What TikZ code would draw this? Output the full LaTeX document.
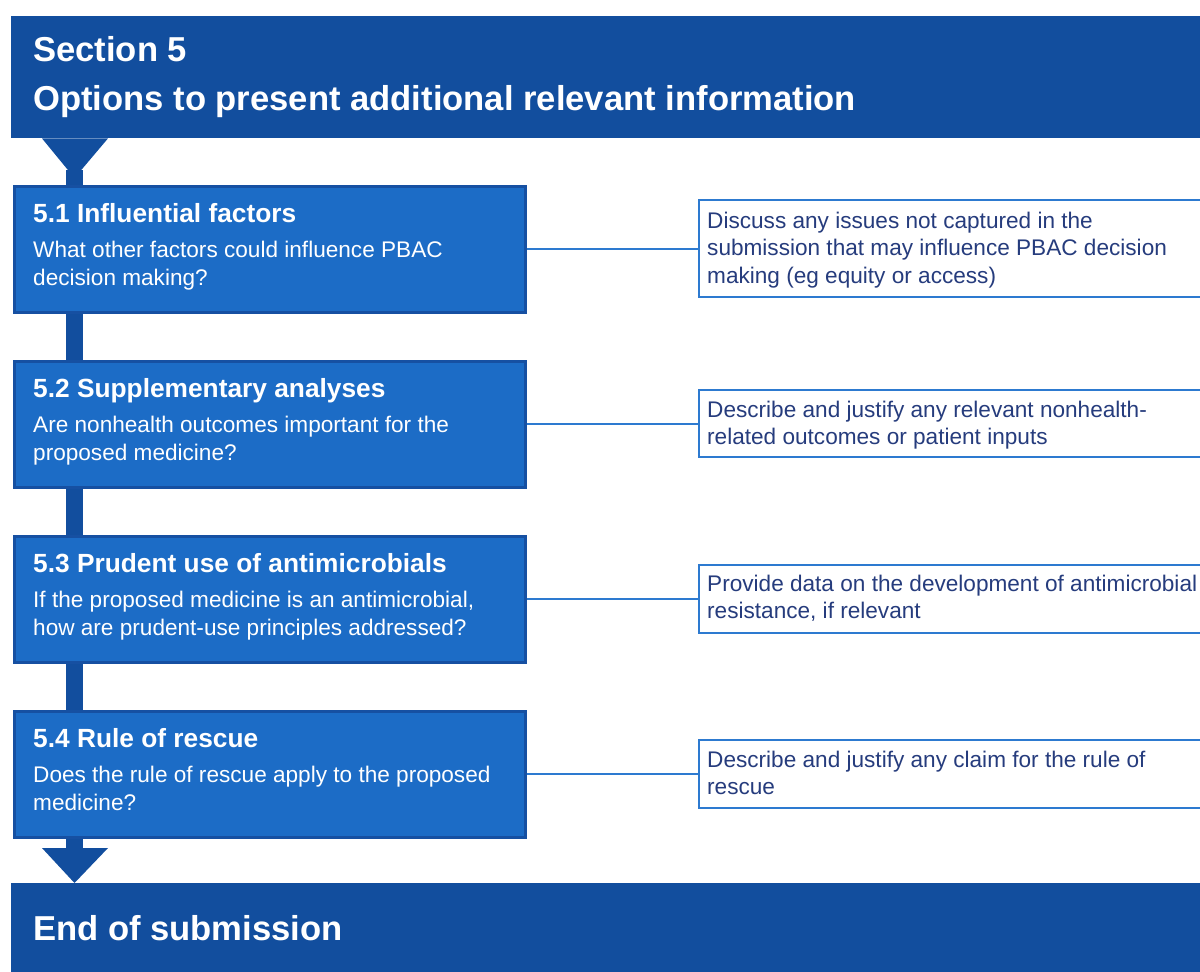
\documentclass[tikz,border=0pt]{standalone}
\usepackage{fontspec}
\setmainfont{Liberation Sans}
\definecolor{hdr}{RGB}{18,78,158}
\definecolor{boxfill}{RGB}{28,108,198}
\definecolor{boxline}{RGB}{22,80,162}
\definecolor{rline}{RGB}{45,122,208}
\definecolor{rtext}{RGB}{38,60,125}
\tikzset{
  banner/.style={fill=hdr, draw=none},
  stepbox/.style={draw=boxline, line width=3pt, fill=boxfill, rectangle, minimum width=511pt, minimum height=126pt, inner sep=0pt, anchor=north west},
  notebox/.style={draw=rline, line width=2pt, fill=white, rectangle, minimum width=520pt, inner sep=0pt, anchor=north west},
  flowbar/.style={draw=hdr, line width=17pt},
  link/.style={draw=rline, line width=2.5pt},
  hdrtext/.style={anchor=base west, inner sep=0pt, text=white, font=\fontsize{34.6}{40}\bfseries\selectfont},
  titletext/.style={anchor=base west, inner sep=0pt, text=white, font=\fontsize{26.3}{30}\bfseries\selectfont},
  bodytext/.style={anchor=base west, inner sep=0pt, text=white, font=\fontsize{22.6}{28}\selectfont},
  notetext/.style={anchor=base west, inner sep=0pt, text=rtext, font=\fontsize{22.6}{27.5}\selectfont},
}
\newcommand{\ptext}[1]{\parbox[t]{490pt}{\raggedright #1}}
\begin{document}
\begin{tikzpicture}[x=1pt,y=-1pt]
\useasboundingbox (0,0) rectangle (1200,972);
% banners
\node[banner, rectangle, minimum width=1189pt, minimum height=122pt, inner sep=0pt, anchor=north west] (head) at (11,16) {};
\node[banner, rectangle, minimum width=1189pt, minimum height=89pt, inner sep=0pt, anchor=north west] (foot) at (11,883) {};
\node[hdrtext] (h1) at (33,61) {Section 5};
\node[hdrtext] (h2) at (33,110) {Options to present additional relevant information};
\node[hdrtext] (f1) at (33,940) {End of submission};
% step boxes
\node[stepbox] (b1) at (12.5,184.5) {};
\node[stepbox] (b2) at (12.5,359.5) {};
\node[stepbox] (b3) at (12.5,534.5) {};
\node[stepbox] (b4) at (12.5,709.5) {};
% flow bars and arrows
\coordinate (topstem) at (74.5,170);
\coordinate (botstem) at (74.5,850);
\fill[hdr] ([xshift=31pt]head.south west) -- ([xshift=97pt]head.south west) -- (74.5,178) -- cycle;
\draw[flowbar] (topstem) -- ([xshift=62pt]b1.north west);
\draw[flowbar] ([xshift=62pt]b1.south west) -- ([xshift=62pt]b2.north west);
\draw[flowbar] ([xshift=62pt]b2.south west) -- ([xshift=62pt]b3.north west);
\draw[flowbar] ([xshift=62pt]b3.south west) -- ([xshift=62pt]b4.north west);
\draw[flowbar] ([xshift=62pt]b4.south west) -- (botstem);
\fill[hdr] (42,848) -- (108,848) -- ([xshift=63.5pt]foot.north west) -- cycle;
% redraw boxes on top
\node[stepbox] at (12.5,184.5) {};
\node[stepbox] at (12.5,359.5) {};
\node[stepbox] at (12.5,534.5) {};
\node[stepbox] at (12.5,709.5) {};
% note boxes
\node[notebox, minimum height=97pt] (n1) at (698,199) {};
\node[notebox, minimum height=67pt] (n2) at (698,389) {};
\node[notebox, minimum height=68pt] (n3) at (698,563.5) {};
\node[notebox, minimum height=68pt] (n4) at (698,738.5) {};
\draw[link] (b1.east) -- (b1.east -| n1.west);
\draw[link] (b2.east) -- (b2.east -| n2.west);
\draw[link] (b3.east) -- (b3.east -| n3.west);
\draw[link] (b4.east) -- (b4.east -| n4.west);
% texts
\node[titletext] (t1) at (33,222) {5.1 Influential factors};
\node[bodytext] (d1) at (33,257) {\ptext{What other factors could influence PBAC\\decision making?}};
\node[titletext] (t2) at (33,397) {5.2 Supplementary analyses};
\node[bodytext] (d2) at (33,432) {\ptext{Are nonhealth outcomes important for the\\proposed medicine?}};
\node[titletext] (t3) at (33,572) {5.3 Prudent use of antimicrobials};
\node[bodytext] (d3) at (33,607) {\ptext{If the proposed medicine is an antimicrobial,\\how are prudent-use principles addressed?}};
\node[titletext] (t4) at (33,747) {5.4 Rule of rescue};
\node[bodytext] (d4) at (33,782) {\ptext{Does the rule of rescue apply to the proposed\\medicine?}};
\node[notetext] (r1) at (707,228) {\ptext{Discuss any issues not captured in the\\submission that may influence PBAC decision\\making (eg equity or access)}};
\node[notetext] (r2) at (707,417) {\ptext{Describe and justify any relevant nonhealth-\\related outcomes or patient inputs}};
\node[notetext] (r3) at (707,591) {\ptext{Provide data on the development of antimicrobial\\resistance, if relevant}};
\node[notetext] (r4) at (707,767) {\ptext{Describe and justify any claim for the rule of\\rescue}};
\end{tikzpicture}
\end{document}
